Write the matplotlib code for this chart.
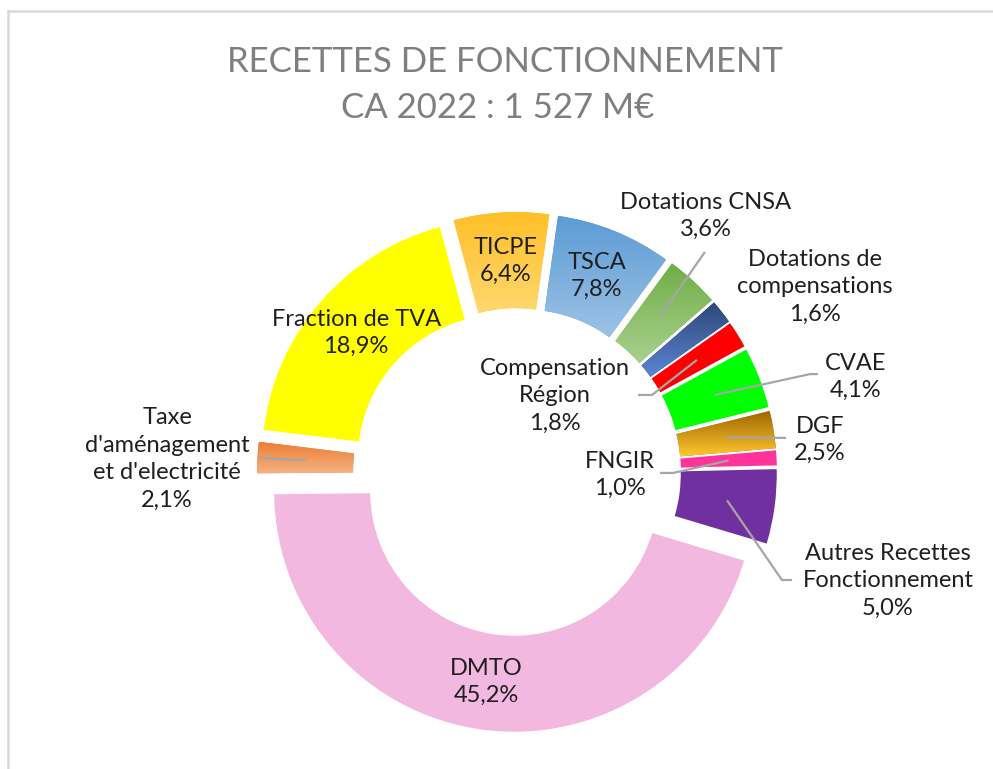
import numpy as np
import matplotlib.pyplot as plt
from matplotlib.colors import to_rgb
from matplotlib.lines import Line2D

# data (clockwise, starting at TICPE)
names = ["TICPE", "TSCA", "Dotations CNSA", "Dotations de\ncompensations",
         "Compensation\nRégion", "CVAE", "DGF", "FNGIR",
         "Autres Recettes\nFonctionnement", "DMTO",
         "Taxe\nd'aménagement\net d'electricité", "Fraction de TVA"]
shares = [6.4, 7.8, 3.6, 1.6, 1.8, 4.1, 2.5, 1.0, 5.0, 45.2, 2.1, 18.9]

# fill colours: top / bottom of a vertical gradient (same = solid)
col_top = ["#FFBF28", "#5B9BD5", "#70AD47", "#2E4677", "#FF0000", "#00FF00",
           "#9C6500", "#FF3399", "#7030A0", "#F2B8E0", "#ED7D31", "#FFFF00"]
col_bot = ["#FFD86E", "#9DC3E6", "#A9D18E", "#5A87D2", "#FF0000", "#00FF00",
           "#FFC62E", "#FF3399", "#7030A0", "#F2B8E0", "#F4B183", "#FFFF00"]

# label centres (data units, radius = 1)
label_xy = [(-0.046, 0.879), (0.333, 0.817), (0.7875, 1.067), (1.242, 0.771),
            (0.158, 0.317), (1.4125, 0.396), (1.2625, 0.133), (0.429, -0.0125),
            (1.546, -0.454), (-0.129, -0.875), (-1.458, 0.054), (-0.67, 0.579)]
# leader line waypoints after the start point inside the slice
leaders = [None, None, [(0.783, 0.917)], None,
           [(0.5625, 0.321), (0.504, 0.321)],
           [(1.221, 0.408), (1.254, 0.408)],
           [(1.121, 0.142)],
           [(0.65, -0.004), (0.596, -0.004)],
           [(1.104, -0.45), (1.146, -0.45)],
           None,
           [(-1.071, 0.058)],
           None]

W, H = 993, 769
cx, cy, scale = 517, 472, 240.0

fig = plt.figure(figsize=(W / 100, H / 100), dpi=100)
ax = fig.add_axes([0, 0, 1, 1])

wedges, _ = ax.pie(shares, startangle=105, counterclock=False,
                   explode=[0.083] * len(shares), radius=1,
                   colors=col_top,
                   wedgeprops=dict(width=0.4, linewidth=0))

grad = np.linspace(0, 1, 256)[:, None, None]
for w, ct, cb in zip(wedges, col_top, col_bot):
    if ct == cb:
        continue
    img = (1 - grad) * np.array(to_rgb(ct)) + grad * np.array(to_rgb(cb))
    bb = w.get_path().get_extents()
    im = ax.imshow(img, extent=(bb.x0, bb.x1, bb.y0, bb.y1), origin='upper',
                   aspect='auto', interpolation='bilinear', zorder=2)
    im.set_clip_path(w)

txt_kw = dict(ha='center', va='center', fontsize=17, color='#1F1F1F',
              family=['Lato', 'DejaVu Sans'], linespacing=1.38, zorder=5)
for w, name, v, (lx, ly), lead in zip(wedges, names, shares, label_xy, leaders):
    pct = f"{v:.1f}".replace('.', ',') + '%'
    ax.text(lx, ly, name + "\n" + pct, **txt_kw)
    if lead is not None:
        a = np.deg2rad((w.theta1 + w.theta2) / 2)
        x0 = w.center[0] + 0.8 * np.cos(a)
        y0 = w.center[1] + 0.8 * np.sin(a)
        xs = [x0] + [p[0] for p in lead]
        ys = [y0] + [p[1] for p in lead]
        ax.plot(xs, ys, color='#A6A6A6', lw=1.6, zorder=4,
                solid_capstyle='butt')

ax.set_xlim(-cx / scale, (W - cx) / scale)
ax.set_ylim(-(H - cy) / scale, cy / scale)
ax.set_aspect('auto')
ax.axis('off')

title_kw = dict(ha='center', va='center', fontsize=25, color='#7F7F7F',
                family=['Lato', 'DejaVu Sans'])
fig.text(505 / W, 1 - 62 / H, "RECETTES DE FONCTIONNEMENT", **title_kw)
fig.text(498 / W, 1 - 108 / H, "CA 2022 : 1 527 M€", **title_kw)

# light frame along top and left edges
fig.add_artist(Line2D([7.5 / W, 1], [1 - 11 / H, 1 - 11 / H], color='#D9D9D9',
                      lw=1.8, transform=fig.transFigure))
fig.add_artist(Line2D([7.5 / W, 7.5 / W], [0, 1 - 11 / H], color='#D9D9D9',
                      lw=1.8, transform=fig.transFigure))

fig.savefig("out.png", dpi=100, facecolor='white')
